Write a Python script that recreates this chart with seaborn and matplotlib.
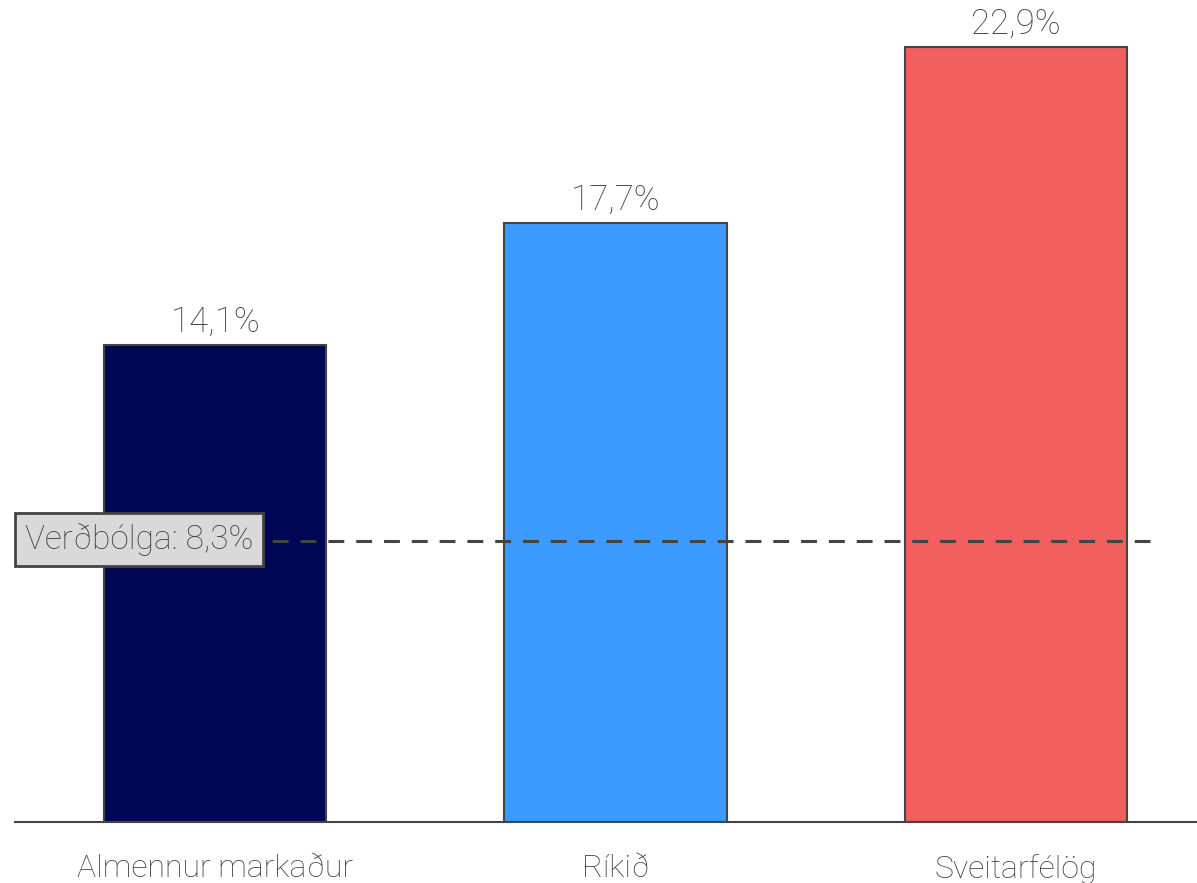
import matplotlib
matplotlib.use("Agg")
import matplotlib.pyplot as plt
import seaborn as sns
import pandas as pd

categories = ["Almennur markaður", "Ríkið", "Sveitarfélög"]
values = [14.1, 17.7, 22.9]
value_labels = ["14,1%", "17,7%", "22,9%"]
colors = ["#000654", "#3d9bff", "#f25f5f"]
inflation = 8.3
inflation_label = "Verðbólga: 8,3%"

sns.set_style("white")
plt.rcParams['font.family'] = ['Roboto', 'DejaVu Sans']

df = pd.DataFrame({"cat": categories, "val": values})
fig = plt.figure(figsize=(11.97, 8.83), dpi=100)
ax = fig.add_axes([15/1197, 61/883, 1 - 15/1197, 822/883])

sns.barplot(data=df, x="cat", y="val", hue="cat", palette=colors, width=0.555,
            edgecolor="#444444", linewidth=1.5, legend=False, ax=ax, saturation=1)

txtc = "#404040"
for i, (v, lab) in enumerate(zip(values, value_labels)):
    ax.text(i, v + 0.18, lab, ha="center", va="bottom", fontsize=25, color=txtc, fontweight="light")

ax.plot([-0.5, 2.335], [inflation, inflation], ls=(6.8, (5.2, 3.9)), color="#444444", lw=2.2, zorder=3)
ax.text(-0.475, inflation + 0.05, inflation_label, ha="left", va="center", fontsize=24, color=txtc,
        fontweight="light", zorder=5,
        bbox=dict(boxstyle="square,pad=0.3", fc="#d9d9d9", ec="#444444", lw=2))

ax.set_xlim(-0.5, 2.452)
ax.set_ylim(0, 24.3)
ax.set_xlabel("")
ax.set_ylabel("")
ax.set_yticks([])
ax.tick_params(axis="x", length=0, pad=23, labelsize=23, labelcolor=txtc)
for t in ax.get_xticklabels():
    t.set_fontweight("light")
for s in ["top", "right", "left"]:
    ax.spines[s].set_visible(False)
ax.spines["bottom"].set_color("#444444")
ax.spines["bottom"].set_linewidth(1.5)

fig.savefig("out.png", dpi=100)
